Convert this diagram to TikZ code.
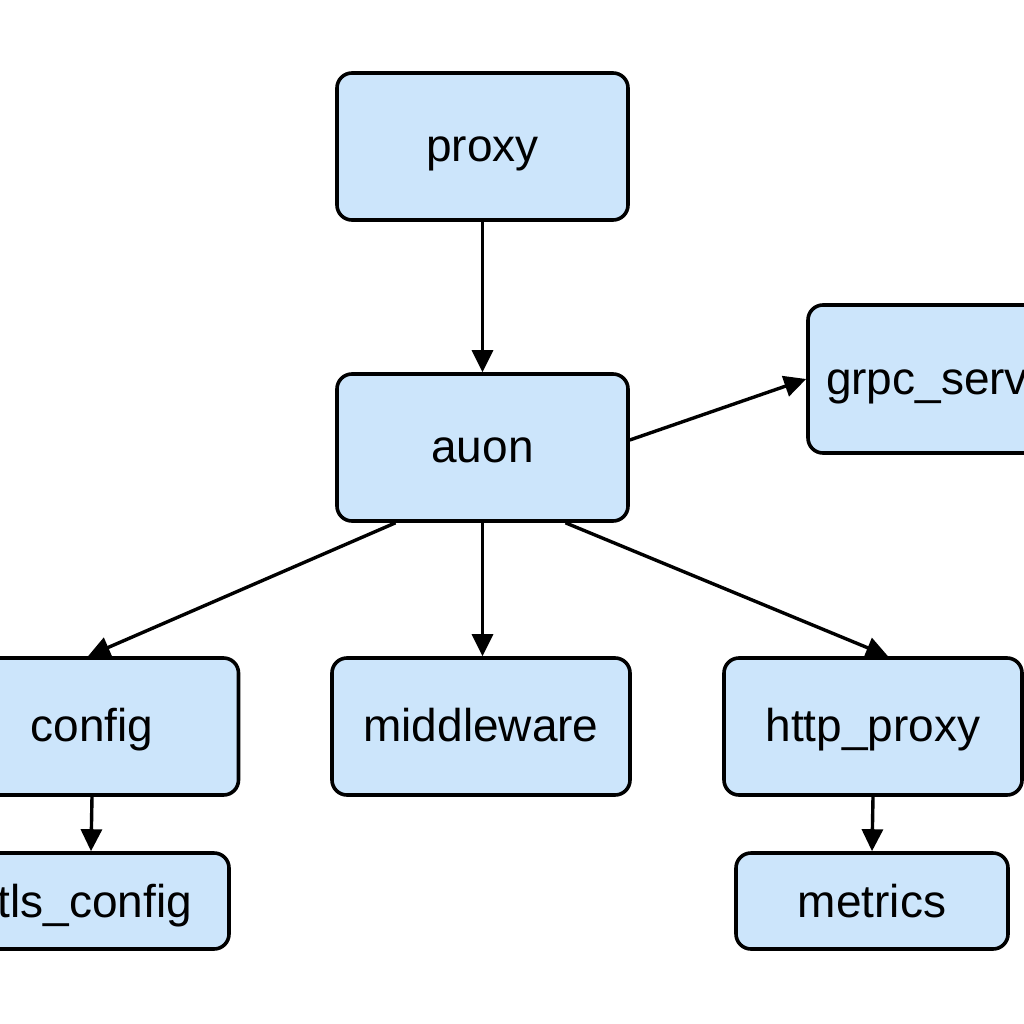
\documentclass[tikz,border=0pt]{standalone}
\usepackage{fontspec}
\setmainfont{Liberation Sans}
\usetikzlibrary{arrows.meta}
\definecolor{boxfill}{RGB}{204,229,251}
\tikzset{
  box/.style={draw=black, fill=boxfill, line width=3.6pt, rounded corners=15pt,
    inner sep=0pt, text height=36pt, text depth=6pt, font=\fontsize{46}{50}\selectfont},
  arr/.style={draw=black, line width=3.4pt, -{Triangle[length=22pt,width=21pt]}},
}
\begin{document}
\begin{tikzpicture}[x=1pt,y=-1pt]
\useasboundingbox (0,0) rectangle (1024,1024);
\clip (0,0) rectangle (1024,1024);
\fill[white] (0,0) rectangle (1024,1024);
\node[box, minimum width=291pt, minimum height=147pt] (proxy) at (482.5,146.5) {proxy};
\node[box, minimum width=291pt, minimum height=147pt] (auon) at (482.5,447.5) {auon};
\node[box, minimum height=148pt, text width=255pt, inner xsep=18pt, align=left] (grpc) at (953.5,379) {grpc\_serv};
\node[box, minimum width=293pt, minimum height=137pt] (config) at (92,726.5) {config};
\node[box, minimum width=298pt, minimum height=137pt] (mid) at (481,726.5) {middleware};
\node[box, minimum width=298pt, minimum height=137pt] (http) at (873,726.5) {http\_proxy};
\node[box, minimum width=268pt, minimum height=96pt, text height=38pt] (tls) at (95,901) {tls\_config};
\node[box, minimum width=272pt, minimum height=96pt, text height=38pt] (metrics) at (872,901) {metrics};
\draw[arr] (proxy.south) -- (auon.north);
\draw[arr] ([yshift=7.5pt]auon.east) -- (grpc.west);
\draw[arr] ([xshift=-87pt]auon.south) -- ([xshift=-4pt]config.north);
\draw[arr] (auon.south) -- ([xshift=1.5pt]mid.north);
\draw[arr] ([xshift=83pt]auon.south) -- ([xshift=15pt]http.north);
\draw[arr] (config.south) -- ([xshift=-4pt]tls.north);
\draw[arr] (http.south) -- (metrics.north);
\end{tikzpicture}
\end{document}
